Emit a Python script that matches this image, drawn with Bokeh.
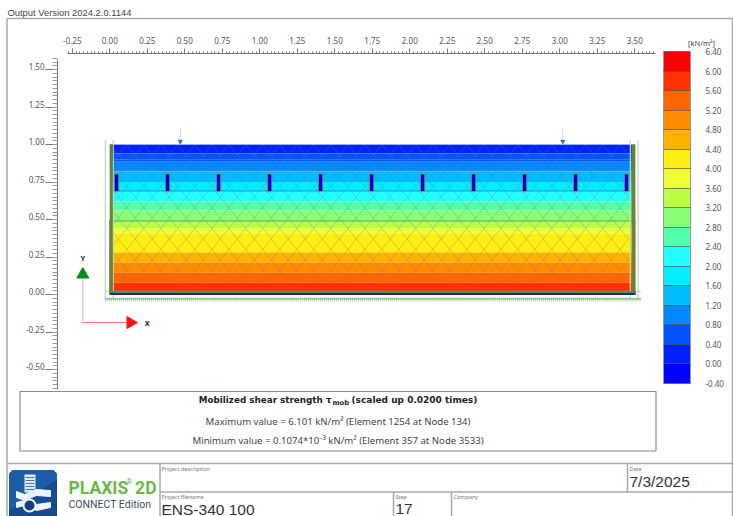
from bokeh.plotting import figure
from bokeh.embed import file_html
from bokeh.resources import INLINE
from bokeh.core.properties import value
from bokeh.models import (LinearAxis, Range1d, FixedTicker, NumeralTickFormatter,
                          ColorBar, LinearColorMapper)
import numpy as np

# ---- chart values ----
legend_levels = [-0.40, 0.00, 0.40, 0.80, 1.20, 1.60, 2.00, 2.40, 2.80, 3.20, 3.60,
                 4.00, 4.40, 4.80, 5.20, 5.60, 6.00, 6.40]
legend_colors = ["#0000ff", "#0022ff", "#0055ff", "#0088ff", "#00bbff", "#00eeff",
                 "#22ffff", "#55ffaa", "#88ff77", "#bbff44", "#eeff33", "#ffee11",
                 "#ffb300", "#ff8c00", "#ff6600", "#ff3300", "#ff0000"]
# elevation of the top of each shading band, from the surface downward
band_tops = [1.00, 0.94, 0.885, 0.82, 0.75, 0.69, 0.62, 0.56, 0.49, 0.44, 0.407,
             0.28, 0.213, 0.147, 0.08, 0.03]
band_bottoms = band_tops[1:] + [0.02]
band_colors = legend_colors[1:]
x_ticks = [-0.25, 0.00, 0.25, 0.50, 0.75, 1.00, 1.25, 1.50, 1.75, 2.00, 2.25, 2.50, 2.75, 3.00, 3.25, 3.50]
y_ticks = [-0.50, -0.25, 0.00, 0.25, 0.50, 0.75, 1.00, 1.25, 1.50]
plate_x = [0.045, 0.385, 0.725, 1.065, 1.405, 1.745, 2.085, 2.425, 2.765, 3.105, 3.445]
plate_top = 0.80
plate_bottom = 0.69
load_x = [0.47, 3.02]
struct_lines_y = [0.90, 0.83, 0.69, 0.49]
struct_line_colors = ["#5577dd", "#4488cc", "#3377dd", "#668877"]
SOIL_W = 3.5

PX = 150.0
X0 = 109.3   # reference pixel of x = 0
Y0 = 294.0   # reference pixel of y = 0
W, H = 733, 516

p = figure(width=W, height=H, output_backend="svg", toolbar_location=None,
           x_range=Range1d((0 - X0) / PX, (W - X0) / PX),
           y_range=Range1d((Y0 - H) / PX, (Y0 - 0) / PX),
           x_axis_location=None, y_axis_location=None, min_border=0,
           outline_line_color=None)
p.grid.visible = False
p.extra_x_ranges["px"] = Range1d(0, W)
p.extra_y_ranges["px"] = Range1d(H, 0)
# the y labels sit just above their tick lines: a second scale, slightly raised, carries them
LIFT = 2.7
p.extra_y_ranges["ylabels"] = Range1d((Y0 - LIFT - H) / PX, (Y0 - LIFT) / PX)
PXR = dict(x_range_name="px", y_range_name="px")

# ---- axes ----
minor_x = [round(v, 3) for v in np.arange(-0.275, 3.65, 0.025)]
minor_y = [round(v, 3) for v in np.arange(-0.625, 1.58, 0.025)]
GREY = "#777777"
top = LinearAxis(fixed_location=(Y0 - 53) / PX, bounds=(-0.28, 3.64),
                 ticker=FixedTicker(ticks=x_ticks, minor_ticks=minor_x),
                 formatter=NumeralTickFormatter(format="0.00"),
                 major_tick_out=5, major_tick_in=0, minor_tick_out=2, minor_tick_in=0,
                 major_label_standoff=5, major_label_text_font=("Noto Sans"),
                 major_label_text_font_size="8px", major_label_text_color="#555555",
                 axis_line_color=GREY, major_tick_line_color=GREY, minor_tick_line_color=GREY)
p.add_layout(top, "above")
left = LinearAxis(fixed_location=(57 - X0) / PX, bounds=(-0.63, 1.57),
                  ticker=FixedTicker(ticks=y_ticks, minor_ticks=minor_y),
                  major_label_overrides={v: "" for v in y_ticks},
                  major_tick_out=12, major_tick_in=0, minor_tick_out=5, minor_tick_in=0,
                  major_label_standoff=1,
                  axis_line_color=GREY, major_tick_line_color=GREY, minor_tick_line_color="#999999")
p.add_layout(left, "left")
left_labels = LinearAxis(y_range_name="ylabels", fixed_location=(57 - X0) / PX,
                         ticker=FixedTicker(ticks=y_ticks),
                         formatter=NumeralTickFormatter(format="0.00"),
                         axis_line_color=None, major_tick_line_color=None, minor_tick_line_color=None,
                         major_tick_out=12, major_tick_in=0, minor_tick_out=0, minor_tick_in=0,
                         major_label_standoff=1, major_label_orientation="horizontal",
                         major_label_text_font=("Noto Sans"),
                         major_label_text_font_size="8px", major_label_text_color="#555555")
p.add_layout(left_labels, "left")

# ---- shading bands ----
p.quad(left=0, right=SOIL_W, top=band_tops, bottom=band_bottoms, color=band_colors, line_color=None)

# ---- mesh ----
dx, dy = 17.0 / PX, 10.5 / PX
xs0, ys0, xs1, ys1 = [], [], [], []
for j in range(int(0.98 / dy)):
    y_a = 1.0 - j * dy
    y_b = y_a - dy
    for i in range(-1, int(SOIL_W / dx) + 2):
        x_a = (i + (j % 2) / 2) * dx
        for sgn in (-1, 1):
            x_b = x_a + sgn * dx / 2
            if 0 <= x_a <= SOIL_W and 0 <= x_b <= SOIL_W:
                xs0.append(x_a); ys0.append(y_a); xs1.append(x_b); ys1.append(y_b)
p.segment(xs0, ys0, xs1, ys1, line_color="#777777", line_alpha=0.42, line_width=0.8)
p.segment([0] * len(struct_lines_y), struct_lines_y, [SOIL_W] * len(struct_lines_y), struct_lines_y,
          line_color=struct_line_colors, line_width=1, line_alpha=0.8)
p.segment([0, 0], [1.0, 0.02], [SOIL_W, SOIL_W], [1.0, 0.02], line_color="#99aaff", line_width=1)

# ---- guide lines round the model ----
p.segment([-0.03, 0.023, SOIL_W - 0.03, SOIL_W + 0.022], [1.03] * 4,
          [-0.03, 0.023, SOIL_W - 0.03, SOIL_W + 0.022], [-0.03] * 4,
          line_color="#b8dcb8", line_width=1.2)
p.segment([-0.03], [0.022], [SOIL_W + 0.04], [0.022], line_color="#a8d0a8", line_width=1)
hatch = [round(v, 3) for v in np.arange(-0.03, SOIL_W + 0.04, 0.0134)]
p.segment(hatch, [-0.02] * len(hatch), hatch, [-0.045] * len(hatch), line_color="#9ccc9c", line_width=1)
p.segment([-0.03], [-0.028], [SOIL_W + 0.04], [-0.028], line_color="#90c890", line_width=1.5)

# ---- walls and bottom ----
p.segment([0, SOIL_W], [0.5, 0.5], [0, SOIL_W], [0, 0], line_color="#223388", line_width=1, line_alpha=0.7)
p.quad(left=[0, SOIL_W - 0.022], right=[0.02, SOIL_W + 0.004], top=[1.0, 1.0], bottom=[0.0, 0.0],
       color="#6f7f30", line_color=None, alpha=0.95)
p.segment([-0.005], [0.014], [SOIL_W + 0.005], [0.014], line_color="#4f8a3d", line_width=2.5)
p.segment([0], [0.003], [SOIL_W + 0.005], [0.003], line_color="#20306e", line_width=2)

# ---- plates ----
n = len(plate_x)
p.segment(plate_x, [plate_top + 0.008] * n, plate_x, [plate_bottom - 0.008] * n,
          line_color="#8a9440", line_width=5.5, line_alpha=0.8)
p.segment(plate_x, [plate_top] * n, plate_x, [plate_bottom] * n, line_color="#0000e0", line_width=3.4)

# ---- load markers ----
p.segment(load_x, [1.11, 1.11], load_x, [1.02, 1.02], line_color="#c8d4ec", line_width=1)
p.scatter(load_x, [1.02, 1.02], marker="inverted_triangle", size=4, color="#3a6ea8")

# ---- global axes triad ----
tx, ty = -0.18, -0.187
p.segment([tx, tx], [ty, ty], [tx, tx + 0.30], [ty + 0.30, ty], line_color=["#9fd09f", "#ff7070"], line_width=1)
p.scatter([tx], [ty + 0.32], marker="triangle", size=12, color="#0b8a1f")
p.scatter([tx + 0.318], [ty], marker="triangle", size=12, angle=-np.pi / 2, color="#ff1010")
p.text([tx, tx + 0.43], [ty + 0.43, ty], ["Y", "X"], text_align="center", text_baseline="middle",
       text_font=value("Noto Sans"), text_font_size="7.5px", text_font_style="bold", text_color="#222222")

# ---- colour legend ----
mapper = LinearColorMapper(palette=legend_colors, low=legend_levels[0], high=legend_levels[-1])
bar = ColorBar(color_mapper=mapper, ticker=FixedTicker(ticks=legend_levels),
               formatter=NumeralTickFormatter(format="0.00"),
               location=(663, 133), width=27, height=332, padding=0, margin=0,
               background_fill_color=None, border_line_color=None,
               bar_line_color="#999999", major_tick_in=27, major_tick_out=0, minor_tick_in=0,
               major_tick_line_color="#555555", major_tick_line_alpha=0.7,
               major_label_text_font="Noto Sans", major_label_text_font_size="8px",
               major_label_text_color="#555555", label_standoff=15)
p.add_layout(bar)


def txt(x, y, s, size, font="Noto Sans", color="#444444", align="left", style="normal"):
    p.text([x], [y], [s], text_align=align, text_baseline="middle", text_font=value(font),
           text_font_size=f"{size}px", text_font_style=style, text_color=color, **PXR)


txt(701, 42, "[kN/m²]", 7.5, align="center")

# ---- outer frame and title block ----
LG = "#a8a8a8"
frame_x0 = [6.5, 6.5, 6.5, 732, 159.5, 159.5, 393, 451, 627]
frame_y0 = [18, 18, 463, 18, 463, 491.5, 491.5, 491.5, 463]
frame_x1 = [733, 6.5, 733, 732, 159.5, 733, 393, 451, 627]
frame_y1 = [18, 516, 463, 516, 516, 491.5, 516, 516, 491.5]
p.segment(frame_x0, frame_y0, frame_x1, frame_y1, line_color=LG, line_width=1.5, **PXR)
txt(7, 12, "Output Version 2024.2.0.1144", 9.4, font="Liberation Sans")

# ---- information box ----
p.quad(left=[19.5], right=[655.5], top=[391], bottom=[450.5], fill_color=None,
       line_color="#8a8a8a", line_width=1.2, **PXR)
txt(331, 399, "Mobilized shear strength τ", 8.8, font="DejaVu Sans", color="#222222", align="right", style="bold")
txt(332, 402.5, "mob", 6.8, font="DejaVu Sans", color="#222222", style="bold")
txt(351, 399, "(scaled up 0.0200 times)", 9, font="DejaVu Sans", color="#222222", style="bold")
txt(337.5, 421, "Maximum value = 6.101 kN/m² (Element 1254 at Node 134)", 9.6, align="center")
txt(337.5, 440, "Minimum value = 0.1074*10⁻³ kN/m² (Element 357 at Node 3533)", 9.6, align="center")

txt(161, 468, "Project description", 5.5, color="#777777")
txt(161, 496, "Project filename", 5.5, color="#777777")
txt(395, 496, "Step", 5.5, color="#777777")
txt(453, 496, "Company", 5.5, color="#777777")
txt(629, 468, "Date", 5.5, color="#777777")
txt(161, 508.5, "ENS-340 100", 15.5, font="Liberation Sans", color="#333333")
txt(395, 508.5, "17", 15.5, font="Liberation Sans", color="#333333")
txt(629, 480.5, "7/3/2025", 15.5, font="Liberation Sans", color="#333333")

# ---- logo ----
p.patch([12, 53, 56, 56, 9, 9], [470, 470, 473, 516, 516, 473], color="#1b5ea6", **PXR)
p.patch([56, 56, 30, 9, 9], [480, 516, 516, 516, 510], color="#123f86", alpha=0.6, **PXR)
p.quad(left=[24], right=[35], top=[474], bottom=[492], color="#dfe8f2", line_color=None, **PXR)
p.segment([25] * 5, [477, 480, 483, 486, 489], [34] * 5, [477, 480, 483, 486, 489],
          line_color="#1b5ea6", line_width=0.8, **PXR)
p.patch([16, 24, 36, 50, 50, 36, 24, 16], [491, 494, 489, 490, 496, 495, 500, 497], color="#f0f4fa", **PXR)
p.patch([16, 24, 36, 50, 50, 36, 24, 16], [502, 500, 504, 502, 507, 510, 505, 507], color="#f0f4fa", **PXR)
p.scatter([29], [505], x_range_name="px", y_range_name="px", marker="circle", size=12,
          fill_color="#123f86", line_color="#f0f4fa", line_width=2)
txt(68, 487, "PLAXIS", 17.5, font="Roboto", color="#69b944", style="bold")
txt(126, 481, "®", 7, font="Roboto", color="#69b944", style="bold")
txt(156, 487, "2D", 17.5, font="Roboto", color="#69b944", align="right", style="bold")
txt(68, 504, "CONNECT Edition", 10.5, font="Roboto", color="#3c4c5c")

open("out.html", "w").write(file_html(p, INLINE))
